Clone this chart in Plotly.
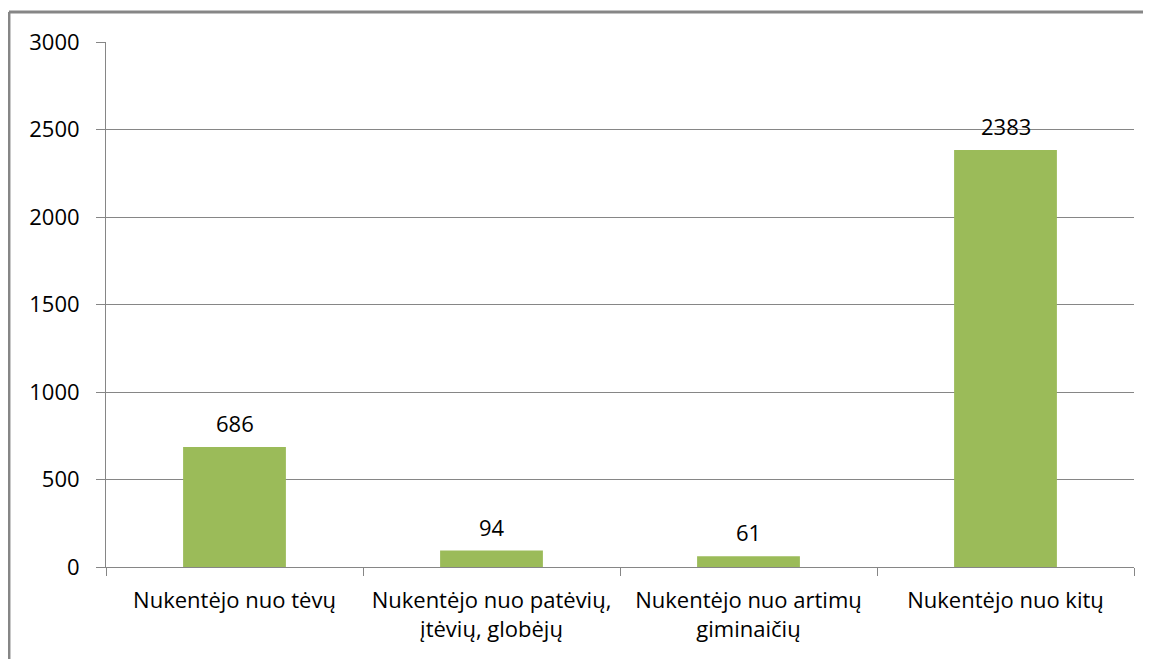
import plotly.graph_objects as go

categories = [
    "Nukentėjo nuo tėvų",
    "Nukentėjo nuo patėvių,<br>įtėvių, globėjų",
    "Nukentėjo nuo artimų<br>giminaičių",
    "Nukentėjo nuo kitų",
]
values = [686, 94, 61, 2383]
y_ticks = [0, 500, 1000, 1500, 2000, 2500, 3000]

font_family = "Open Sans, DejaVu Sans, sans-serif"
grey = "#868686"

fig = go.Figure()
fig.add_trace(go.Bar(
    x=categories, y=values,
    marker=dict(color="#9BBB59", line=dict(width=0)),
))

# data labels above the bars
for cat, val in zip(categories, values):
    fig.add_annotation(x=cat, y=val, text=str(val), showarrow=False,
                       yanchor="bottom", yshift=7,
                       font=dict(size=22, color="black", family=font_family))

# the page body has an 8px margin, so the figure is shifted by 8px
fig.update_layout(
    width=1143, height=651,
    margin=dict(l=98, r=17, t=34, b=92),
    paper_bgcolor="white", plot_bgcolor="white",
    bargap=0.6,
    showlegend=False,
    font=dict(family=font_family, size=22, color="black"),
)

fig.update_yaxes(
    range=[0, 3000], tickvals=y_ticks,
    showgrid=True, gridcolor=grey, gridwidth=1,
    showline=True, linecolor=grey, linewidth=1,
    ticks="outside", ticklen=9, tickcolor=grey,
    ticklabelstandoff=12,
    zeroline=False,
    tickfont=dict(size=22),
)
fig.update_xaxes(
    showline=True, linecolor=grey, linewidth=1,
    ticks="outside", ticklen=8, tickcolor=grey,
    tickson="boundaries",
    tickfont=dict(size=22),
    ticklabelstandoff=14,
)

# frame around the chart (only top and left edges visible in the crop)
fig.add_shape(type="line", xref="paper", yref="paper",
              x0=-0.0944, x1=1.0136, y0=1.0571, y1=1.0571,
              line=dict(color=grey, width=3))
fig.add_shape(type="line", xref="paper", yref="paper",
              x0=-0.0944, x1=-0.0944, y0=1.0571, y1=-0.2,
              line=dict(color=grey, width=3))

fig.write_html("out.html")
